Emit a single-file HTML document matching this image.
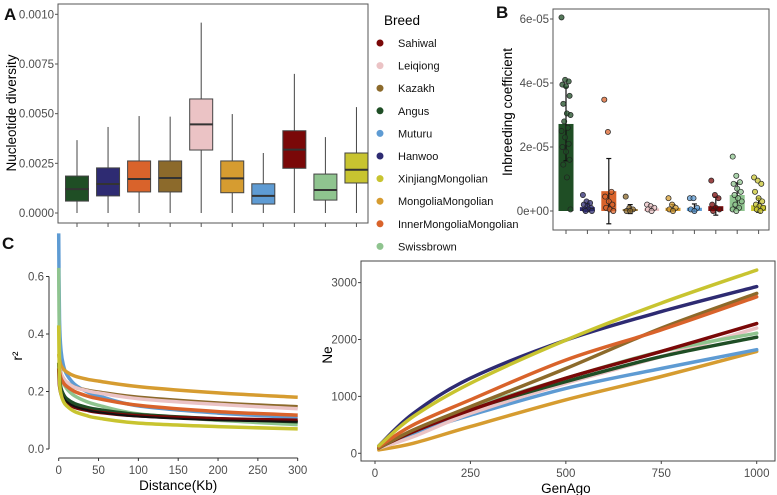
<!DOCTYPE html>
<html><head><meta charset="utf-8"><style>
body{margin:0;background:#fff;}
svg{display:block;font-family:"Liberation Sans",sans-serif;}
.tk{fill:#4d4d4d;font-size:11.5px;}
.ti{fill:#000;font-size:13.5px;}
.pl{font-size:17px;font-weight:bold;fill:#111;}
</style></head><body>
<svg id="fig" width="777" height="495" viewBox="0 0 777 495" xmlns="http://www.w3.org/2000/svg">
<g id="pA"></g>
<g id="leg"></g>
<g id="pB"></g>
<g id="pC1"></g>
<g id="pC2"></g>
</svg>
<script>
const breeds=["Angus","Hanwoo","InnerMongoliaMongolian","Kazakh","Leiqiong","MongoliaMongolian","Muturu","Sahiwal","Swissbrown","XinjiangMongolian"];
const colors=["#1f4e25","#2e2b72","#d9632b","#8c6a2b","#ebc3c5","#d69c30","#5e9bd3","#7a0808","#8fc48f","#c8c430"];
const legendOrder=["Sahiwal","Leiqiong","Kazakh","Angus","Muturu","Hanwoo","XinjiangMongolian","MongoliaMongolian","InnerMongoliaMongolian","Swissbrown"];
// Panel A box stats
const aMin=[0,0,0,0,0,0,0,0,0,0];
const aQ1=[0.0006,0.00086,0.00106,0.00106,0.00317,0.00102,0.00045,0.00225,0.00065,0.00151];
const aMed=[0.0012,0.00146,0.00171,0.00176,0.00446,0.00174,0.00086,0.00319,0.00116,0.00218];
const aQ3=[0.00186,0.00227,0.00262,0.00262,0.00574,0.00262,0.00147,0.00414,0.00196,0.00302];
const aMax=[0.00367,0.00433,0.00488,0.00485,0.00958,0.00498,0.00302,0.0070,0.00382,0.00533];
const aTicks=[0,0.0025,0.005,0.0075,0.01];
const aTickLabels=["0.0000","0.0025","0.0050","0.0075","0.0010"];
// Panel B
const bMean=[2.72,0.12,0.62,0.06,0.08,0.1,0.1,0.15,0.5,0.18];
const bSd=[1.15,0.12,1.02,0.14,0.06,0.1,0.12,0.28,0.38,0.22];
const bPts=[[6.05,4.1,4.05,3.95,3.9,3.6,3.35,3.05,3.0,2.8,2.6,2.5,2.3,2.1,2.0,1.85,1.6,1.45,1.05,0.05],
 [0.5,0.3,0.25,0.2,0.15,0.1,0.05,0.05,0,0],
 [3.48,2.47,0.6,0.45,0.3,0.2,0.1,0.05,0],
 [0.45,0.1,0.05,0,0],
 [0.2,0.15,0.1,0.05,0],
 [0.4,0.2,0.1,0.05,0],
 [0.4,0.4,0.1,0.05,0],
 [0.95,0.5,0.4,0.2,0.1,0.05,0],
 [1.7,1.1,0.9,0.85,0.7,0.6,0.5,0.4,0.3,0.2,0.1,0.05,0],
 [1.05,0.95,0.85,0.6,0.4,0.3,0.2,0.15,0.1,0.05,0]];
const bTicks=[0,2,4,6];
const bTickLabels=["0e+00","2e-05","4e-05","6e-05"];
// Panel C left: LD decay
const ldDist=[0,1,3,6,10,20,35,50,100,200,300];
const ldVals={
 Angus:[0.3,0.25,0.21,0.19,0.175,0.158,0.145,0.137,0.12,0.105,0.095],
 Hanwoo:[0.3,0.24,0.2,0.18,0.165,0.148,0.136,0.128,0.113,0.1,0.095],
 InnerMongoliaMongolian:[0.3,0.27,0.245,0.23,0.218,0.2,0.185,0.175,0.152,0.13,0.118],
 Kazakh:[0.3,0.28,0.26,0.245,0.232,0.215,0.205,0.198,0.18,0.16,0.147],
 Leiqiong:[0.3,0.28,0.26,0.245,0.232,0.215,0.203,0.195,0.175,0.155,0.14],
 MongoliaMongolian:[0.33,0.31,0.29,0.278,0.268,0.254,0.243,0.236,0.217,0.195,0.18],
 Muturu:[0.75,0.45,0.34,0.29,0.26,0.225,0.2,0.185,0.15,0.125,0.11],
 Sahiwal:[0.28,0.22,0.19,0.172,0.16,0.145,0.135,0.128,0.115,0.105,0.1],
 Swissbrown:[0.63,0.34,0.26,0.23,0.21,0.185,0.165,0.152,0.122,0.1,0.085],
 XinjiangMongolian:[0.43,0.24,0.19,0.165,0.15,0.13,0.116,0.107,0.09,0.078,0.07]};
const ldXTicks=[0,50,100,150,200,250,300];
const ldYTicks=[0,0.2,0.4,0.6];
// Panel C right: Ne
const neGen=[10,100,250,500,750,1000];
const neVals={
 MongoliaMongolian:[60,175,470,940,1350,1790],
 Muturu:[90,350,670,1140,1490,1820],
 Leiqiong:[90,290,700,1230,1700,2200],
 Angus:[100,380,770,1260,1700,2040],
 Swissbrown:[100,380,790,1320,1790,2110],
 Sahiwal:[100,380,760,1320,1790,2280],
 Kazakh:[90,410,820,1490,2200,2810],
 InnerMongoliaMongolian:[110,500,940,1640,2170,2750],
 Hanwoo:[130,700,1320,1990,2490,2930],
 XinjiangMongolian:[130,645,1230,1990,2640,3220]};
const neXTicks=[0,250,500,750,1000];
const neYTicks=[0,1000,2000,3000];

const NS="http://www.w3.org/2000/svg";
function mk(p,t,a,txt){const e=document.createElementNS(NS,t);for(const k in a)e.setAttribute(k,a[k]);if(txt!==undefined)e.textContent=txt;p.appendChild(e);return e;}
const col=b=>colors[breeds.indexOf(b)];
function smooth(pts){
 let d='M'+pts[0][0].toFixed(1)+','+pts[0][1].toFixed(1);
 for(let i=0;i<pts.length-1;i++){const p0=pts[Math.max(0,i-1)],p1=pts[i],p2=pts[i+1],p3=pts[Math.min(pts.length-1,i+2)];
  const c1=[p1[0]+(p2[0]-p0[0])/6,p1[1]+(p2[1]-p0[1])/6],c2=[p2[0]-(p3[0]-p1[0])/6,p2[1]-(p3[1]-p1[1])/6];
  d+='C'+c1.map(n=>n.toFixed(1))+' '+c2.map(n=>n.toFixed(1))+' '+p2.map(n=>n.toFixed(1));}
 return d;}

// ---- Panel A
(function(){
const g=document.getElementById('pA');
const L=58,R=368,T=4,B=223;
const y=v=>213-v/0.0025*49.67;
const x=i=>77+i*31.05;
let e=mk(g,'text',{x:4,y:20,class:'pl'},'A');

e=mk(g,'rect',{x:L,y:T,width:R-L,height:B-T,fill:'none',stroke:'#555','stroke-width':1});

aTicks.forEach((t,i)=>{mk(g,'line',{x1:L-3,x2:L,y1:y(t),y2:y(t),stroke:'#555'});
 e=mk(g,'text',{x:L-4,y:y(t)+4,'text-anchor':'end',class:'tk'},aTickLabels[i]);
 });
e=mk(g,'text',{x:16,y:113,'text-anchor':'middle',class:'ti',transform:'rotate(-90 16 113)'},'Nucleotide diversity');

breeds.forEach((b,i)=>{const cx=x(i),w=23;
 mk(g,'line',{x1:cx,x2:cx,y1:B,y2:B+4,stroke:'#555'});
 const bg=mk(g,'g',{});
 
 mk(bg,'line',{x1:cx,x2:cx,y1:y(aMax[i]),y2:y(aMin[i]),stroke:'#444','stroke-width':1});
 mk(bg,'rect',{x:cx-w/2,y:y(aQ3[i]),width:w,height:y(aQ1[i])-y(aQ3[i]),fill:colors[i],stroke:'#444','stroke-width':1});
 mk(bg,'line',{x1:cx-w/2,x2:cx+w/2,y1:y(aMed[i]),y2:y(aMed[i]),stroke:'#333','stroke-width':2});
});
})();

// ---- Legend
(function(){
const g=document.getElementById('leg');
let e=mk(g,'text',{x:384,y:25,style:'font-size:13.5px'},'Breed');

legendOrder.forEach((b,i)=>{const yy=43+i*22.6;
 const eg=mk(g,'g',{});
 
 mk(eg,'circle',{cx:380,cy:yy,r:3.5,fill:col(b)});
 mk(eg,'text',{x:398,y:yy+4,style:'font-size:11px',fill:'#111'},b);
});
})();

// ---- Panel B
(function(){
const g=document.getElementById('pB');
const L=553,R=769,T=9,B=230;
const y=v=>211-v/2*64;
const x=i=>566+i*21.4;
let e=mk(g,'text',{x:496,y:18,class:'pl'},'B');

e=mk(g,'rect',{x:L,y:T,width:R-L,height:B-T,fill:'none',stroke:'#555'});

bTicks.forEach((t,i)=>{mk(g,'line',{x1:L-3,x2:L,y1:y(t),y2:y(t),stroke:'#555'});
 e=mk(g,'text',{x:L-4,y:y(t)+4,'text-anchor':'end',class:'tk'},bTickLabels[i]);
 });
e=mk(g,'text',{x:512,y:112,'text-anchor':'middle',class:'ti',transform:'rotate(-90 512 112)'},'Inbreeding coefficient');

breeds.forEach((b,i)=>{const cx=x(i),w=15;
 mk(g,'line',{x1:cx,x2:cx,y1:B,y2:B+4,stroke:'#555'});
 const bg=mk(g,'g',{});
 
 mk(bg,'rect',{x:cx-w/2,y:y(bMean[i]),width:w,height:y(0)-y(bMean[i]),fill:colors[i]});
 const lo=bMean[i]-bSd[i],hi=bMean[i]+bSd[i];
 mk(bg,'line',{x1:cx,x2:cx,y1:y(hi),y2:y(lo),stroke:'#111','stroke-width':1.2});
 mk(bg,'line',{x1:cx-2.5,x2:cx+2.5,y1:y(hi),y2:y(hi),stroke:'#111','stroke-width':1.2});
 mk(bg,'line',{x1:cx-2.5,x2:cx+2.5,y1:y(lo),y2:y(lo),stroke:'#111','stroke-width':1.2});
 bPts[i].forEach((v,j)=>{const off=((j*37)%11-5)*0.9;
  mk(bg,'circle',{cx:cx+off,cy:y(v),r:2.6,fill:colors[i],'fill-opacity':0.75,stroke:'#222','stroke-width':0.7});});
});
})();

// ---- Panel C left
(function(){
const g=document.getElementById('pC1');
const x=d=>58.7+d/300*239;
const y=v=>449-v/0.2*57.5;
let e=mk(g,'text',{x:2,y:249,class:'pl'},'C');

mk(g,'line',{x1:49,x2:49,y1:y(0.6),y2:y(0),stroke:'#333'});
mk(g,'line',{x1:x(0),x2:x(300),y1:458,y2:458,stroke:'#333'});
ldYTicks.forEach(t=>{mk(g,'line',{x1:46,x2:49,y1:y(t),y2:y(t),stroke:'#333'});
 e=mk(g,'text',{x:44,y:y(t)+4,'text-anchor':'end',class:'tk'},t.toFixed(1));
 });
ldXTicks.forEach(t=>{mk(g,'line',{x1:x(t),x2:x(t),y1:458,y2:461,stroke:'#333'});
 e=mk(g,'text',{x:x(t),y:474,'text-anchor':'middle',class:'tk'},t);
 });
e=mk(g,'text',{x:x(150),y:490,'text-anchor':'middle',class:'ti'},'Distance(Kb)');

e=mk(g,'text',{x:22,y:356,'text-anchor':'middle',class:'ti',transform:'rotate(-90 22 356)'},'r²');

const order=["Muturu","Swissbrown","MongoliaMongolian","Kazakh","Leiqiong","InnerMongoliaMongolian","Angus","Sahiwal","Hanwoo","XinjiangMongolian"];
order.forEach(b=>{const v=ldVals[b];
 const c=b==="Hanwoo"?"#111":col(b);
 const pts=v.map((val,i)=>[x(ldDist[i]),y(val)]);
 e=mk(g,'path',{d:smooth(pts),fill:'none',stroke:c,'stroke-width':b==="Hanwoo"?2:3.5,'stroke-linejoin':'round'});
 });
})();

// ---- Panel C right
(function(){
const g=document.getElementById('pC2');
const L=361,R=775,T=261,B=461;
const x=v=>375+v/1000*381.7;
const y=v=>453.3-v/1000*56.9;
let e=mk(g,'rect',{x:L,y:T,width:R-L,height:B-T,fill:'none',stroke:'#444'});

neYTicks.forEach(t=>{mk(g,'line',{x1:L-3,x2:L,y1:y(t),y2:y(t),stroke:'#444'});
 e=mk(g,'text',{x:L-4,y:y(t)+4,'text-anchor':'end',class:'tk'},t);
 });
neXTicks.forEach(t=>{mk(g,'line',{x1:x(t),x2:x(t),y1:B,y2:B+3,stroke:'#444'});
 e=mk(g,'text',{x:x(t),y:477,'text-anchor':'middle',class:'tk'},t);
 });
e=mk(g,'text',{x:x(500),y:493,'text-anchor':'middle',class:'ti'},'GenAgo');

e=mk(g,'text',{x:332,y:355,'text-anchor':'middle',class:'ti',transform:'rotate(-90 332 355)'},'Ne');

Object.keys(neVals).forEach(b=>{const v=neVals[b];
 const pts=v.map((val,i)=>[x(neGen[i]),y(val)]);
 e=mk(g,'path',{d:smooth(pts),fill:'none',stroke:col(b),'stroke-width':3.5,'stroke-linecap':'round'});
 });
})();
</script>
</body></html>
